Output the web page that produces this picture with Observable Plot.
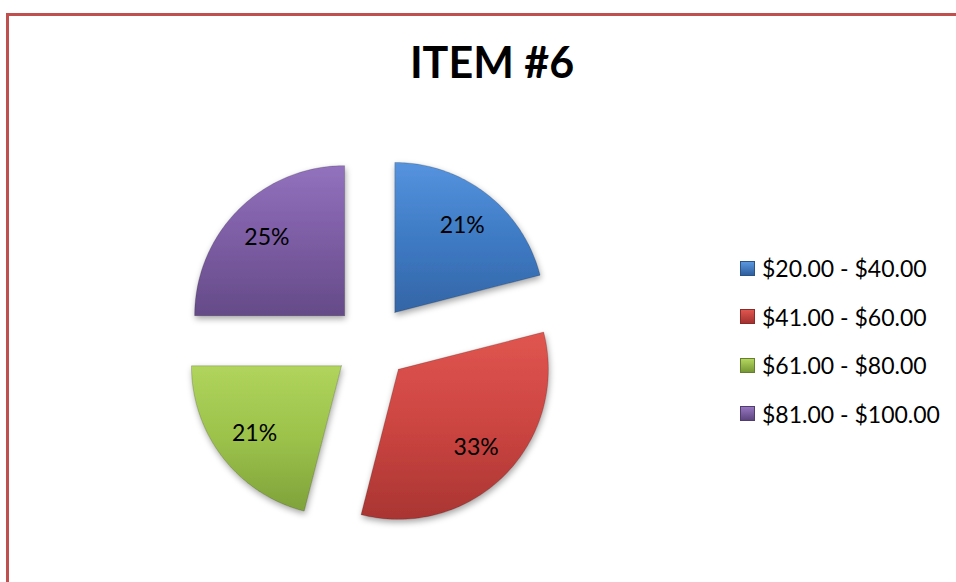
<!DOCTYPE html>
<html>
<head>
<meta charset="utf-8">
<script src="https://cdn.jsdelivr.net/npm/d3@7"></script>
<script src="https://cdn.jsdelivr.net/npm/@observablehq/plot@0.6"></script>
<style>
  html, body { margin: 0; padding: 0; background: #fff; }
  body { width: 956px; height: 582px; position: relative; overflow: hidden; font-family: Lato, "Open Sans", sans-serif; }
  #frame { position: absolute; left: 6px; top: 13px; width: 960px; height: 580px;
           border-left: 3px solid #c0504d; border-top: 3px solid #c0504d; box-sizing: border-box; }
  #title { position: absolute; left: 292px; width: 400px; top: 40px; text-align: center;
           font: bold 43px/43px Lato, sans-serif; color: #000; }
  #chart { position: absolute; left: 0; top: 110px; }
  #legend { position: absolute; left: 740px; top: 244px; }
  .row { display: flex; align-items: center; height: 48.5px; font-size: 23px; line-height: 48px; color: #000; }
  .sw { width: 15px; height: 15px; box-sizing: border-box; margin-right: 7px; }
</style>
</head>
<body>
<svg width="0" height="0" style="position:absolute">
  <defs>
    <linearGradient id="g0" x1="0" y1="0" x2="0" y2="1">
      <stop offset="0" stop-color="#5693de"/><stop offset="0.5" stop-color="#3e7bc5"/><stop offset="1" stop-color="#3465a6"/>
    </linearGradient>
    <linearGradient id="g1" x1="0" y1="0" x2="0" y2="1">
      <stop offset="0" stop-color="#e0554f"/><stop offset="0.5" stop-color="#cc4541"/><stop offset="1" stop-color="#a93532"/>
    </linearGradient>
    <linearGradient id="g2" x1="0" y1="0" x2="0" y2="1">
      <stop offset="0" stop-color="#b0d45c"/><stop offset="0.5" stop-color="#9cc24b"/><stop offset="1" stop-color="#7fa23a"/>
    </linearGradient>
    <linearGradient id="g3" x1="0" y1="0" x2="0" y2="1">
      <stop offset="0" stop-color="#9272bd"/><stop offset="0.5" stop-color="#7c5ca3"/><stop offset="1" stop-color="#654b88"/>
    </linearGradient>
    <filter id="shadow" x="-20%" y="-20%" width="140%" height="140%">
      <feDropShadow dx="1" dy="3" stdDeviation="3" flood-color="#000" flood-opacity="0.35"/>
    </filter>
  </defs>
</svg>
<div id="frame"></div>
<div id="title">ITEM #6</div>
<div id="chart"></div>
<div id="legend"></div>
<script>
// ---- data ----
const categories = ["$20.00 - $40.00", "$41.00 - $60.00", "$61.00 - $80.00", "$81.00 - $100.00"];
const percents = [21, 33, 21, 25];

// ---- styles ----
const fills = ["url(#g0)", "url(#g1)", "url(#g2)", "url(#g3)"];
const swatchCss = [
  "linear-gradient(#5a97e0,#2f5f9e)",
  "linear-gradient(#e0554f,#a23230)",
  "linear-gradient(#b3d65f,#769834)",
  "linear-gradient(#9676c0,#5e4580)"
];
const swatchBorder = ["#2b5385", "#8c2a27", "#657f2c", "#513c70"];

// ---- geometry (pixels) ----
const W = 956, H = 472;
const CX = 371, CY = 232;   // pie centre inside the svg
const R = 150, EXPLODE = 38, LABEL_R = 110;

const arcs = d3.pie().sort(null).startAngle(0).endAngle(2 * Math.PI)(percents);

const pts = [];
const labels = [];
arcs.forEach((a, i) => {
  const mid = (a.startAngle + a.endAngle) / 2;
  const ox = EXPLODE * Math.sin(mid), oy = EXPLODE * Math.cos(mid);
  const cat = categories[i];
  pts.push({cat, x: ox, y: oy});
  const n = 80;
  for (let k = 0; k <= n; k++) {
    const t = a.startAngle + (a.endAngle - a.startAngle) * k / n;
    pts.push({cat, x: ox + R * Math.sin(t), y: oy + R * Math.cos(t)});
  }
  pts.push({cat, x: ox, y: oy});
  labels.push({
    cat,
    x: ox + LABEL_R * Math.sin(mid),
    y: oy + LABEL_R * Math.cos(mid),
    text: percents[i] + "%"
  });
});

const plot = Plot.plot({
  width: W,
  height: H,
  margin: 0,
  x: {domain: [-CX, W - CX], range: [0, W], axis: null},
  y: {domain: [-(H - CY), CY], range: [H, 0], axis: null},
  color: {domain: categories, range: fills},
  style: {fontFamily: "Lato, 'Open Sans', sans-serif", background: "transparent"},
  marks: [
    Plot.line(pts, {x: "x", y: "y", z: "cat", fill: "cat", stroke: "#000", strokeOpacity: 0.18, strokeWidth: 1, curve: "linear"}),
    Plot.text(labels, {x: "x", y: "y", text: "text", fontSize: 23, fill: "#000", textAnchor: "middle", lineAnchor: "middle"})
  ]
});
d3.select(plot).selectAll('g[aria-label="line"] path').attr("filter", "url(#shadow)");
document.getElementById("chart").appendChild(plot);

// legend
const legend = d3.select("#legend");
categories.forEach((c, i) => {
  const row = legend.append("div").attr("class", "row");
  row.append("div").attr("class", "sw")
    .style("background", swatchCss[i])
    .style("border", "1px solid " + swatchBorder[i]);
  row.append("span").text(c);
});
</script>
</body>
</html>
